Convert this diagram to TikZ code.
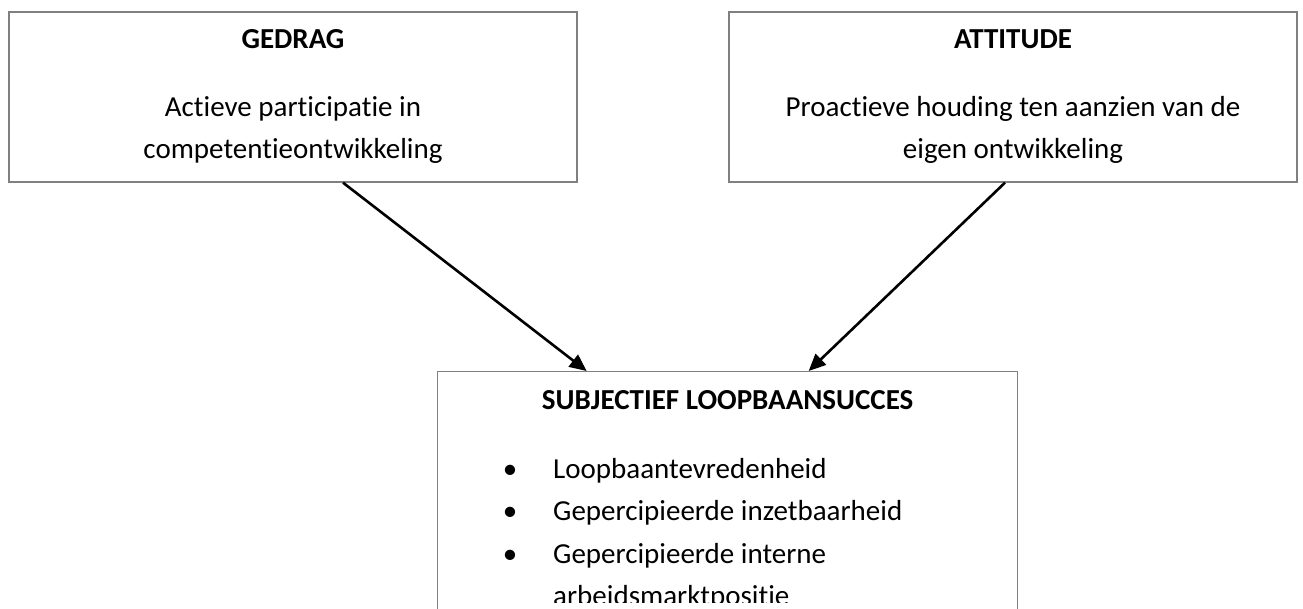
\documentclass[tikz,border=0pt]{standalone}
\usepackage{fontspec}
\setmainfont{Carlito}[Ligatures={NoCommon}]
\usetikzlibrary{positioning,arrows.meta}

\tikzset{
  kader/.style={draw=black!50, line width=1.3pt, minimum width=568pt,
    minimum height=170pt, inner sep=0pt},
  kop/.style={font=\fontsize{29}{35}\selectfont\bfseries, anchor=base, inner sep=0pt},
  regel/.style={font=\fontsize{29}{35}\selectfont, anchor=base, inner sep=0pt},
  punt/.style={regel, anchor=base},
  pijl/.style={line width=2.6pt, -{Triangle[length=17pt,width=15pt]}}
}

\begin{document}
\begin{tikzpicture}[x=1pt, y=-1pt]
  \useasboundingbox (0,0) rectangle (1303,608);

  % de twee bovenste kaders
  \node[kader] (gedrag)   at (293,97)  {};
  \node[kader] (attitude) at (1013,97) {};
  \node[kader, minimum width=580pt, minimum height=300pt, anchor=north west]
    (succes) at (437,371) {};

  \node[kop]   (gedrag-kop) at ([yshift=-37pt]gedrag.north)  {GEDRAG};
  \node[regel] (gedrag-r1)  at ([yshift=-105pt]gedrag.north) {Actieve participatie in};
  \node[regel] (gedrag-r2)  at ([yshift=-147pt]gedrag.north) {competentieontwikkeling};

  \node[kop]   (attitude-kop) at ([yshift=-37pt]attitude.north)  {ATTITUDE};
  \node[regel] (attitude-r1)  at ([yshift=-105pt]attitude.north) {Proactieve houding ten aanzien van de};
  \node[regel] (attitude-r2)  at ([yshift=-147pt]attitude.north) {eigen ontwikkeling};

  % onderste kader
  \node[kop] (succes-kop) at ([yshift=-38pt]succes.north) {SUBJECTIEF LOOPBAANSUCCES};
  \begin{scope}
    \clip (succes.north west) rectangle (1303,602);
    \node[punt]  (p1) at ([shift={(73pt,-107pt)}]succes.north west)   {\textbullet};
    \node[punt]  (p2) at ([shift={(73pt,-149.5pt)}]succes.north west) {\textbullet};
    \node[punt]  (p3) at ([shift={(73pt,-192pt)}]succes.north west)   {\textbullet};
    \node[regel, anchor=base west] (l1) at ([shift={(116pt,-107pt)}]succes.north west)   {Loopbaantevredenheid};
    \node[regel, anchor=base west] (l2) at ([shift={(116pt,-149.5pt)}]succes.north west) {Gepercipieerde inzetbaarheid};
    \node[regel, anchor=base west] (l3) at ([shift={(116pt,-192pt)}]succes.north west)   {Gepercipieerde interne};
    \node[regel, anchor=base west] (l4) at ([shift={(116pt,-234.5pt)}]succes.north west) {arbeidsmarktpositie};
  \end{scope}

  % pijlen
  \draw[pijl] ([xshift=50pt]gedrag.south)  -- ([xshift=-141pt]succes.north);
  \draw[pijl] ([xshift=-8pt]attitude.south) -- ([xshift=81pt]succes.north);
\end{tikzpicture}
\end{document}
